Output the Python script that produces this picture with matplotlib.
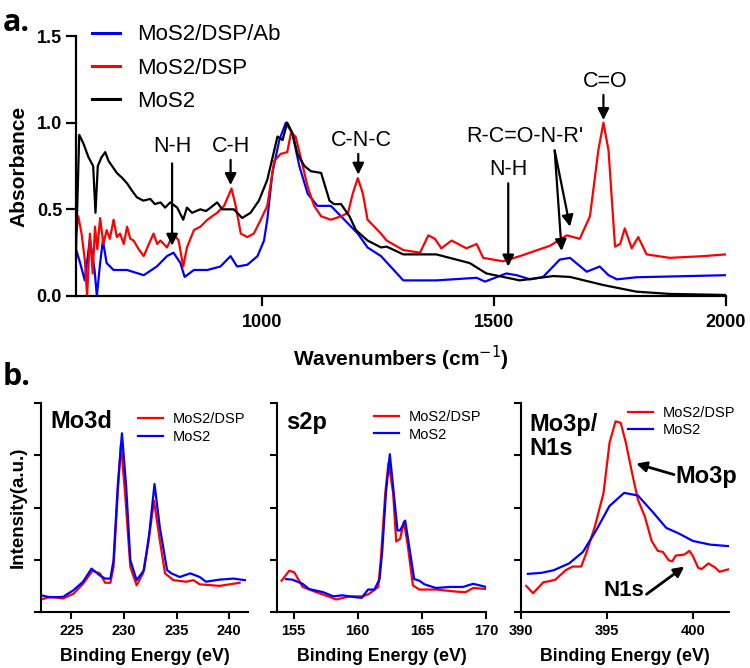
import matplotlib
matplotlib.use("Agg")
import matplotlib.pyplot as plt

plt.rcParams['font.family'] = ['Liberation Sans', 'DejaVu Sans']

# ---------------- FTIR data (panel a) ----------------
mos2_x = [600, 607, 616, 627, 637, 642, 647, 655, 663, 670, 688, 700, 710, 720, 731, 745, 760, 770, 782,
          792, 803, 818, 831, 839, 850, 868, 880, 890, 904, 915, 940, 958, 976, 994, 1012, 1034, 1045,
          1055, 1066, 1077, 1092, 1106, 1128, 1146, 1156, 1171, 1189, 1203, 1228, 1257, 1269, 1305,
          1376, 1448, 1484, 1556, 1628, 1664, 1736, 1807, 1879, 2000]
mos2_y = [0.25, 0.93, 0.88, 0.80, 0.75, 0.48, 0.75, 0.80, 0.83, 0.78, 0.71, 0.68, 0.65, 0.61, 0.57, 0.55,
          0.56, 0.53, 0.54, 0.51, 0.54, 0.51, 0.44, 0.51, 0.48, 0.50, 0.49, 0.51, 0.54, 0.50, 0.50, 0.45,
          0.48, 0.55, 0.67, 0.92, 0.90, 1.00, 0.94, 0.82, 0.75, 0.72, 0.71, 0.55, 0.53, 0.53, 0.46, 0.38,
          0.32, 0.28, 0.285, 0.24, 0.24, 0.19, 0.13, 0.09, 0.115, 0.11, 0.063, 0.025, 0.012, 0.006]

dsp_x = [600, 605, 612, 619, 624, 630, 636, 641, 646, 652, 659, 666, 673, 681, 688, 695, 703, 710, 717,
         724, 735, 746, 757, 767, 775, 782, 796, 810, 821, 831, 839, 854, 868, 883, 904, 919, 935, 944,
         955, 969, 983, 998, 1012, 1027, 1041, 1055, 1063, 1073, 1084, 1099, 1113, 1128, 1149, 1171,
         1186, 1196, 1207, 1218, 1228, 1257, 1269, 1305, 1341, 1359, 1373, 1387, 1409, 1441, 1463,
         1477, 1520, 1556, 1621, 1657, 1685, 1707, 1725, 1736, 1747, 1761, 1772, 1782, 1797, 1811,
         1829, 1879, 1951, 2000]
dsp_y = [0.36, 0.46, 0.36, 0.21, 0.0, 0.36, 0.13, 0.40, 0.27, 0.45, 0.30, 0.38, 0.33, 0.44, 0.34, 0.36,
         0.30, 0.40, 0.33, 0.32, 0.27, 0.23, 0.30, 0.36, 0.30, 0.32, 0.28, 0.36, 0.32, 0.17, 0.28, 0.38,
         0.40, 0.44, 0.48, 0.52, 0.62, 0.52, 0.36, 0.34, 0.36, 0.44, 0.52, 0.78, 0.82, 0.83, 0.94, 0.92,
         0.80, 0.63, 0.52, 0.46, 0.44, 0.46, 0.48, 0.59, 0.68, 0.59, 0.44, 0.36, 0.32, 0.265, 0.25, 0.35,
         0.33, 0.275, 0.32, 0.275, 0.30, 0.22, 0.20, 0.23, 0.29, 0.35, 0.33, 0.46, 0.84, 1.00, 0.84,
         0.285, 0.30, 0.39, 0.275, 0.34, 0.24, 0.22, 0.23, 0.24]

ab_x = [600, 609, 619, 630, 640, 645, 652, 658, 666, 681, 710, 746, 774, 796, 810, 825, 834, 854, 883,
        911, 933, 947, 969, 991, 1005, 1012, 1023, 1038, 1052, 1066, 1081, 1099, 1120, 1149, 1178, 1207,
        1228, 1257, 1305, 1376, 1463, 1481, 1527, 1549, 1578, 1606, 1642, 1664, 1700, 1728, 1747, 1765,
        1807, 2000]
ab_y = [0.27, 0.19, 0.09, 0.33, 0.15, 0.0, 0.19, 0.32, 0.19, 0.15, 0.15, 0.12, 0.17, 0.23, 0.25, 0.19,
        0.11, 0.15, 0.15, 0.17, 0.23, 0.17, 0.18, 0.23, 0.32, 0.44, 0.71, 0.90, 1.00, 0.94, 0.75, 0.59,
        0.52, 0.52, 0.44, 0.36, 0.28, 0.23, 0.09, 0.09, 0.105, 0.083, 0.13, 0.12, 0.096, 0.11, 0.21,
        0.22, 0.14, 0.17, 0.12, 0.096, 0.108, 0.12]

# ---------------- XPS data (panel b) ----------------
mo3d_x = [222.1, 223.0, 224.2, 225.2, 226.1, 227.0, 227.7, 228.2, 228.7, 229.0, 229.4, 229.7, 230.1,
          230.6, 231.2, 231.8, 232.3, 232.85, 233.4, 233.9, 234.7, 235.9, 236.6, 237.2, 239.1, 241.0]
mo3d_dsp = [0.24, 0.29, 0.26, 0.35, 0.54, 0.79, 0.74, 0.56, 0.56, 0.86, 2.27, 3.20, 2.27, 0.86, 0.51,
            0.74, 1.31, 2.13, 1.38, 0.74, 0.61, 0.58, 0.61, 0.53, 0.50, 0.56]
mo3d_x2 = [222.1, 223.0, 224.2, 225.2, 226.1, 226.9, 227.7, 228.2, 228.7, 229.0, 229.4, 229.8, 230.2,
           230.6, 231.2, 231.9, 232.4, 232.9, 233.4, 234.1, 234.5, 235.3, 236.3, 237.2, 237.8, 239.1,
           240.4, 241.5]
mo3d_mos2 = [0.32, 0.28, 0.29, 0.42, 0.58, 0.83, 0.70, 0.64, 0.64, 0.99, 2.41, 3.42, 2.41, 0.99, 0.61,
             0.80, 1.50, 2.45, 1.63, 0.80, 0.74, 0.67, 0.74, 0.67, 0.58, 0.62, 0.64, 0.61]

s2p_x = [154.06, 154.66, 155.05, 155.7, 156.75, 157.8, 158.3, 159.4, 160.4, 160.9, 161.6, 161.8,
         162.15, 162.4, 162.75, 163.0, 163.3, 163.6, 163.9, 164.3, 164.8, 166.1, 167.7, 168.4, 169.0,
         170.0]
s2p_dsp = [0.60, 0.79, 0.76, 0.48, 0.38, 0.29, 0.24, 0.30, 0.30, 0.35, 0.48, 1.02, 2.29, 2.86, 2.29,
           1.35, 1.40, 1.73, 1.27, 0.51, 0.43, 0.43, 0.39, 0.38, 0.46, 0.44]
s2p_x2 = [154.4, 154.9, 155.7, 156.2, 157.3, 158.1, 158.8, 159.6, 160.3, 160.8, 161.3, 161.7, 161.9,
          162.2, 162.5, 162.8, 163.1, 163.3, 163.7, 164.0, 164.4, 164.8, 165.2, 166.1, 167.2, 168.2,
          169.0, 170.0]
s2p_mos2 = [0.63, 0.62, 0.54, 0.44, 0.38, 0.30, 0.32, 0.29, 0.27, 0.43, 0.43, 0.63, 1.14, 2.29, 3.02,
            2.29, 1.56, 1.56, 1.75, 1.27, 0.63, 0.60, 0.53, 0.46, 0.48, 0.48, 0.54, 0.48]

mo3p_x = [390.3, 390.7, 391.3, 391.65, 392.0, 392.6, 393.0, 393.5, 393.8, 394.3, 394.8, 395.15, 395.5,
          395.8, 396.1, 396.5, 396.8, 397.2, 397.6, 397.96, 398.25, 398.6, 398.8, 399.0, 399.5, 399.8,
          400.0, 400.3, 400.5, 400.9, 401.3, 401.55, 402.1]
mo3p_dsp = [0.50, 0.36, 0.57, 0.59, 0.62, 0.80, 0.87, 0.87, 1.13, 1.64, 2.28, 3.24, 3.65, 3.62, 3.24,
            2.60, 2.15, 1.83, 1.36, 1.17, 1.15, 0.99, 0.97, 1.08, 1.10, 1.17, 1.07, 0.85, 0.82, 0.93,
            0.85, 0.77, 0.82]
mo3p_x2 = [390.4, 391.2, 391.9, 392.8, 393.6, 394.4, 395.15, 396.0, 396.8, 397.7, 398.45, 399.2, 400.0,
           401.0, 402.1]
mo3p_mos2 = [0.73, 0.75, 0.80, 0.93, 1.15, 1.58, 2.03, 2.28, 2.23, 1.90, 1.61, 1.50, 1.36, 1.29, 1.26]

BLUE = '#0000ff'
RED = '#ff0000'

fig = plt.figure(figsize=(7.5, 6.68), dpi=100)

# ---------------- panel a ----------------
ax = fig.add_axes([0.1013, 0.5569, 0.8667, 0.3892])
ax.plot(ab_x, ab_y, color=BLUE, lw=1.6, label='MoS2/DSP/Ab')
ax.plot(dsp_x, dsp_y, color=RED, lw=1.6, label='MoS2/DSP')
ax.plot(mos2_x, mos2_y, color='black', lw=1.6, label='MoS2')
ax.set_xlim(600, 2000)
ax.set_ylim(0, 1.5)
ax.set_xticks([1000, 1500, 2000])
ax.set_yticks([0.0, 0.5, 1.0, 1.5])
ax.set_yticklabels(['0.0', '0.5', '1.0', '1.5'])
for s in ['top', 'right']:
    ax.spines[s].set_visible(False)
for s in ['left', 'bottom']:
    ax.spines[s].set_linewidth(1.6)
ax.tick_params(width=1.6, length=7, labelsize=13)
ax.tick_params(axis='x', pad=6)
ax.tick_params(axis='y', pad=3)
for lbl in ax.get_xticklabels() + ax.get_yticklabels():
    lbl.set_fontweight('bold')
ax.set_xlabel('Wavenumbers (cm$^{-1}$)', fontsize=15, fontweight='bold', labelpad=9)
ax.set_ylabel('Absorbance', fontsize=15, fontweight='bold', labelpad=6)
leg = ax.legend(loc='upper left', bbox_to_anchor=(0.025, 1.045), frameon=False, fontsize=16,
                handlelength=1.27, handletextpad=0.77, labelspacing=0.55, borderpad=0, borderaxespad=0)
for h in leg.get_lines():
    h.set_linewidth(2.2)

arrow = dict(arrowstyle='-|>', lw=1.6, color='black', mutation_scale=17, shrinkA=0, shrinkB=0)
tfs = 15.5
ax.annotate('', xy=(807, 0.29), xytext=(807, 0.765), arrowprops=arrow)
ax.text(807, 0.86, 'N-H', ha='center', va='center', fontsize=tfs)
ax.annotate('', xy=(933, 0.64), xytext=(933, 0.785), arrowprops=arrow)
ax.text(933, 0.86, 'C-H', ha='center', va='center', fontsize=tfs)
ax.annotate('', xy=(1208, 0.70), xytext=(1208, 0.82), arrowprops=arrow)
ax.text(1215, 0.895, 'C-N-C', ha='center', va='center', fontsize=tfs)
ax.annotate('', xy=(1531, 0.17), xytext=(1531, 0.65), arrowprops=arrow)
ax.text(1531, 0.727, 'N-H', ha='center', va='center', fontsize=tfs)
ax.text(1567, 0.92, "R-C=O-N-R'", ha='center', va='center', fontsize=tfs)
ax.annotate('', xy=(1646, 0.26), xytext=(1631, 0.84), arrowprops=arrow)
ax.annotate('', xy=(1664, 0.40), xytext=(1631, 0.84), arrowprops=arrow)
ax.annotate('', xy=(1736, 1.015), xytext=(1736, 1.16), arrowprops=arrow)
ax.text(1739, 1.24, 'C=O', ha='center', va='center', fontsize=tfs)

fig.text(0.003, 0.988, 'a.', fontsize=22, fontweight='bold', va='top', ha='left',
         family=['Open Sans', 'DejaVu Sans'])
fig.text(0.003, 0.458, 'b.', fontsize=22, fontweight='bold', va='top', ha='left',
         family=['Open Sans', 'DejaVu Sans'])

# ---------------- panel b ----------------
def style_xps(a, xlim, xticks):
    a.set_xlim(*xlim)
    a.set_ylim(0, 4)
    a.set_xticks(xticks)
    a.set_yticks([0, 1, 2, 3, 4])
    a.set_yticklabels([])
    for s in ['top', 'right']:
        a.spines[s].set_visible(False)
    for s in ['left', 'bottom']:
        a.spines[s].set_linewidth(1.5)
    a.tick_params(width=1.5, length=5, labelsize=10.5)
    for lbl in a.get_xticklabels():
        lbl.set_fontweight('bold')
    a.set_xlabel('Binding Energy (eV)', fontsize=12.8, fontweight='bold', labelpad=7)

leg_kw = dict(loc='upper left', frameon=False, fontsize=10.5, handlelength=1.7, handletextpad=0.68,
              labelspacing=0.22, borderpad=0, borderaxespad=0)
bottom = 0.0838
height = 0.3129
a1 = fig.add_axes([0.0547, bottom, 0.276, height])
a1.plot(mo3d_x, mo3d_dsp, color=RED, lw=1.6, label='MoS2/DSP')
a1.plot(mo3d_x2, mo3d_mos2, color=BLUE, lw=1.6, label='MoS2')
style_xps(a1, (222.1, 241.8), [225, 230, 235, 240])
a1.set_ylabel('Intensity(a.u.)', fontsize=13.5, fontweight='bold', labelpad=2)
a1.text(0.045, 0.91, 'Mo3d', transform=a1.transAxes, fontsize=17, fontweight='bold', va='center')
a1.legend(bbox_to_anchor=(0.47, 0.955), **leg_kw)

a2 = fig.add_axes([0.3693, bottom, 0.2787, height])
a2.plot(s2p_x, s2p_dsp, color=RED, lw=1.6, label='MoS2/DSP')
a2.plot(s2p_x2, s2p_mos2, color=BLUE, lw=1.6, label='MoS2')
style_xps(a2, (153.7, 170), [155, 160, 165, 170])
a2.text(0.045, 0.905, 's2p', transform=a2.transAxes, fontsize=17, fontweight='bold', va='center')
a2.legend(bbox_to_anchor=(0.464, 0.965), **leg_kw)

a3 = fig.add_axes([0.6947, bottom, 0.2773, height])
a3.plot(mo3p_x, mo3p_dsp, color=RED, lw=1.6, label='MoS2/DSP')
a3.plot(mo3p_x2, mo3p_mos2, color=BLUE, lw=1.6, label='MoS2')
style_xps(a3, (390, 402.1), [390, 395, 400])
a3.text(0.04, 0.84, 'Mo3p/\nN1s', transform=a3.transAxes, fontsize=17, fontweight='bold',
        va='center', linespacing=1.1)
a3.legend(bbox_to_anchor=(0.514, 0.985), **leg_kw)
arrow2 = dict(arrowstyle='-|>', lw=2.0, color='black', mutation_scale=15, shrinkA=0, shrinkB=0)
a3.annotate('', xy=(396.7, 2.84), xytext=(398.9, 2.63), arrowprops=arrow2)
a3.text(399.0, 2.60, 'Mo3p', fontsize=17, fontweight='bold', va='center', ha='left')
a3.annotate('', xy=(399.5, 0.87), xytext=(397.3, 0.34), arrowprops=arrow2)
a3.text(396.0, 0.42, 'N1s', fontsize=16, fontweight='bold', va='center', ha='center')

fig.savefig('out.png', dpi=100)
